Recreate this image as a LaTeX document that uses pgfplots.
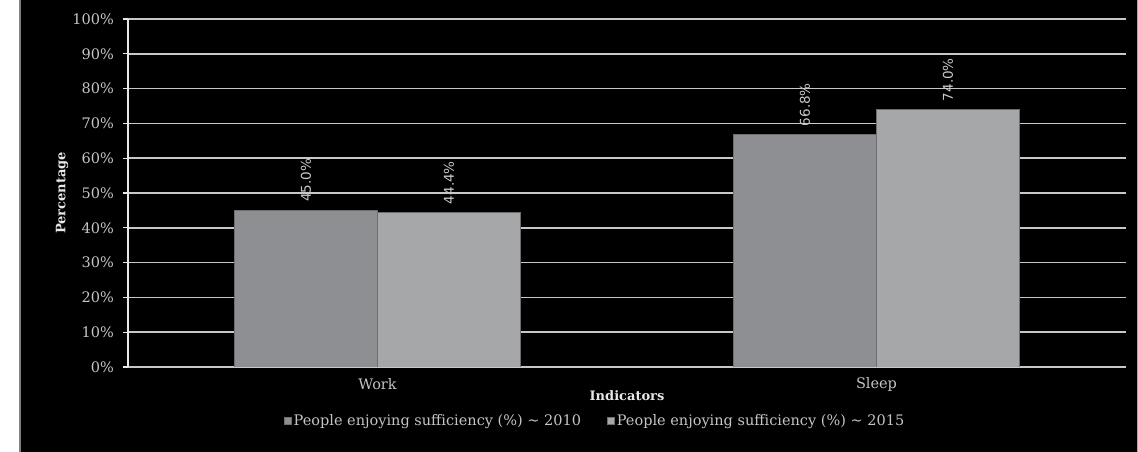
\documentclass[border=0pt]{standalone}
\usepackage{fontspec}
\setmainfont{DejaVu Serif}
\newfontfamily\valfam{DejaVu Sans}
\usepackage{pgfplots}
\pgfplotsset{compat=1.18}
\definecolor{barA}{HTML}{8E8F93}
\definecolor{barB}{HTML}{A6A7A9}
\definecolor{edgec}{HTML}{6E6E70}
\definecolor{gridc}{HTML}{C8C8C8}
\definecolor{tickc}{HTML}{C4C4C4}
\definecolor{valc}{HTML}{C8C8C8}
\definecolor{labc}{HTML}{E8E8E8}
\newcommand\tickfont{\fontsize{14.5bp}{16bp}\selectfont}
\newcommand\legfont{\fontsize{14.5bp}{16bp}\selectfont}
\newcommand\labfont{\fontsize{13bp}{15bp}\selectfont\bfseries}
\newcommand\valfont{\valfam\fontsize{13.5bp}{15bp}\selectfont}
\begin{document}
\begin{tikzpicture}
\fill[white] (0,0) rectangle (1138bp,452bp);
\useasboundingbox (0,0) rectangle (1138bp,452bp);
\fill[black] (19bp,0) rectangle (1137bp,452bp);
\draw[gray, line width=1.5bp] (19.75bp,0) -- (19.75bp,452bp);
\draw[gray!70, line width=1bp] (1137bp,0) -- (1137bp,452bp);
\begin{axis}[
  at={(128bp,85bp)}, anchor=south west,
  scale only axis, width=998bp, height=348bp,
  xmin=-0.5, xmax=1.5, ymin=0, ymax=100,
  ybar=0pt, bar width=143bp,
  axis x line*=bottom, axis y line*=left,
  x axis line style={draw=gridc, line width=2bp, -},
  y axis line style={draw=labc, line width=1.5bp, -},
  xtick={0,1}, xticklabels={Work,Sleep},
  major x tick style={draw=none},
  extra x ticks={0.5}, extra x tick labels={},
  extra x tick style={major tick length=4bp, tick align=outside, major tick style={draw=labc, line width=1bp}, xmajorgrids=false},
  ytick={0,10,...,100},
  yticklabel={\pgfmathprintnumber{\tick}\%},
  /pgf/number format/assume math mode=true,
  tick align=outside,
  major tick length=5bp,
  major y tick style={draw=labc, line width=1.2bp},
  ymajorgrids, grid style={draw=gridc, line width=1.5bp},
  yticklabel style={font=\tickfont, text=tickc, anchor=east, inner sep=0pt, xshift=-9bp},
  xticklabel style={font=\tickfont, text=tickc, anchor=center, yshift=-12bp},
  xlabel={Indicators}, ylabel={Percentage},
  xlabel style={font=\labfont, text=labc, at={(axis description cs:0.5,-0.0833)}, anchor=center},
  ylabel style={font=\labfont, text=labc, at={(axis description cs:-0.0661,0.5)}, anchor=center},
  nodes near coords={\pgfmathprintnumber[fixed,fixed zerofill,precision=1]{\pgfplotspointmeta}\%},
  every node near coord/.append style={rotate=90, anchor=west, inner xsep=8bp, inner ysep=0pt, font=\valfont, text=valc},
  legend columns=2,
  legend style={at={(axis description cs:0.468,-0.155)}, anchor=center, draw=none, fill=none, text=tickc, font=\legfont,
    /tikz/every even column/.append style={column sep=24bp}},
  legend image code/.code={\fill[#1] (0bp,-3.5bp) rectangle (7bp,3.5bp);},
  legend cell align=left,
]
\addplot[fill=barA, draw=edgec, line width=0.8bp] coordinates {(0,45.0) (1,66.8)};
\addplot[fill=barB, draw=edgec, line width=0.8bp] coordinates {(0,44.4) (1,74.0)};
\legend{People enjoying sufficiency (\%) \textasciitilde{} 2010, People enjoying sufficiency (\%) \textasciitilde{} 2015}
\end{axis}
\end{tikzpicture}
\end{document}
